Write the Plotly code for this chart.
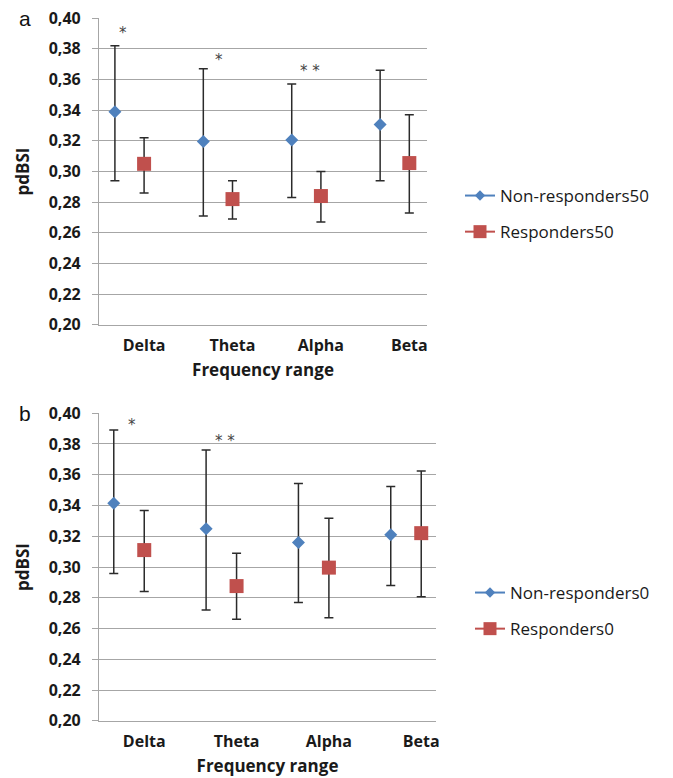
import plotly.graph_objects as go

categories = ["Delta", "Theta", "Alpha", "Beta"]
y_ticks = [0.20, 0.22, 0.24, 0.26, 0.28, 0.30, 0.32, 0.34, 0.36, 0.38, 0.40]

# Panel a
nonresp50_mean = [0.339, 0.3195, 0.3205, 0.3306]
nonresp50_upper = [0.382, 0.367, 0.357, 0.366]
nonresp50_lower = [0.294, 0.271, 0.283, 0.294]
resp50_mean = [0.305, 0.282, 0.284, 0.3055]
resp50_upper = [0.322, 0.294, 0.300, 0.337]
resp50_lower = [0.286, 0.269, 0.267, 0.273]
stars_a_text = ["*", "*", "* *"]
stars_a_cat = [-0.24, 0.85, 1.88]
stars_a_y = [0.390, 0.3727, 0.3655]

# Panel b
nonresp0_mean = [0.3415, 0.3248, 0.316, 0.3209]
nonresp0_upper = [0.389, 0.376, 0.3543, 0.3524]
nonresp0_lower = [0.2957, 0.272, 0.277, 0.288]
resp0_mean = [0.311, 0.2876, 0.2996, 0.322]
resp0_upper = [0.3367, 0.309, 0.3317, 0.3624]
resp0_lower = [0.284, 0.266, 0.267, 0.2807]
stars_b_text = ["*", "* *"]
stars_b_cat = [-0.13, 0.88]
stars_b_y = [0.392, 0.382]

BLUE = "#4F81BD"
RED = "#C0504D"
ERR = "#2b2b2b"
GRID = "#a6a6a6"
W, H = 673, 778
OFF = -0.33
PAD = 8  # page body margin offset


def px(x):
    return (x - PAD) / W


def py(y):
    return 1 - (y - PAD) / H


fig = go.Figure()


def add_panel(xa, ya, legend, mean_b, up_b, lo_b, mean_r, up_r, lo_r, name_b, name_r):
    xb = [i + OFF for i in range(len(categories))]
    xr = list(range(len(categories)))
    for xs, m, u, l, col, sym, size in [
        (xb, mean_b, up_b, lo_b, BLUE, "diamond", 10),
        (xr, mean_r, up_r, lo_r, RED, "square", 14),
    ]:
        fig.add_trace(go.Scatter(
            x=xs, y=m, mode="markers", xaxis=xa, yaxis=ya, showlegend=False,
            marker=dict(symbol=sym, size=size, color=col, line=dict(width=0)),
            error_y=dict(type="data", symmetric=False,
                         array=[a - b for a, b in zip(u, m)],
                         arrayminus=[b - c for b, c in zip(m, l)],
                         color=ERR, thickness=1.5, width=4.5),
        ))
    for nm, col, sym, size in [(name_b, BLUE, "diamond", 8), (name_r, RED, "square", 13)]:
        fig.add_trace(go.Scatter(
            x=[None], y=[None], mode="lines+markers", name=nm, xaxis=xa, yaxis=ya,
            legend=legend, legendgroup=nm,
            line=dict(color=col, width=2),
            marker=dict(symbol=sym, size=size, color=col),
        ))


add_panel("x", "y", "legend", nonresp50_mean, nonresp50_upper, nonresp50_lower,
          resp50_mean, resp50_upper, resp50_lower, "Non-responders50", "Responders50")
add_panel("x2", "y2", "legend2", nonresp0_mean, nonresp0_upper, nonresp0_lower,
          resp0_mean, resp0_upper, resp0_lower, "Non-responders0", "Responders0")

tickfont = dict(family="Open Sans", size=16, color="#1a1a1a", weight="bold")
titlefont = dict(family="Open Sans", size=17, color="#1a1a1a", weight="bold")


def yaxis(dom, anchor):
    return dict(domain=dom, range=[0.1999, 0.4001], tickvals=y_ticks, anchor=anchor,
                tickformat=".2f", showgrid=True, gridcolor=GRID, gridwidth=1.2,
                zeroline=False, showline=True, linecolor=GRID, linewidth=1.2,
                ticks="outside", ticklen=6, tickcolor=GRID, tickfont=tickfont,
                ticklabelstandoff=8, automargin=False, ticklabeloverflow="allow",
                title=dict(text="pdBSI", font=titlefont, standoff=14), fixedrange=True)


def xaxis(dom, rng, anchor):
    return dict(domain=dom, range=rng, tickvals=list(range(len(categories))),
                ticktext=categories, showgrid=False, zeroline=False,
                showline=True, linecolor=GRID, linewidth=1.2, ticks="",
                tickfont=tickfont, ticklabelstandoff=6, anchor=anchor,
                automargin=False, ticklabeloverflow="allow",
                title=dict(text="Frequency range", font=titlefont, standoff=8),
                fixedrange=True)


starfont = dict(family="DejaVu Sans", size=15, color="#444444")
ann = []
for t, cx, cy in zip(stars_a_text, stars_a_cat, stars_a_y):
    ann.append(dict(x=cx, y=cy, xref="x", yref="y", text=t, showarrow=False, font=starfont))
for t, cx, cy in zip(stars_b_text, stars_b_cat, stars_b_y):
    ann.append(dict(x=cx, y=cy, xref="x2", yref="y2", text=t, showarrow=False, font=starfont))
ann.append(dict(x=px(17), y=py(18), xref="paper", yref="paper", text="a",
                showarrow=False, xanchor="left", yanchor="middle",
                font=dict(family="Liberation Sans", size=21, color="#111111")))
ann.append(dict(x=px(17), y=py(413), xref="paper", yref="paper", text="b",
                showarrow=False, xanchor="left", yanchor="middle",
                font=dict(family="Liberation Sans", size=21, color="#111111")))

legfont = dict(family="Open Sans", size=17, color="#1a1a1a")

fig.update_layout(
    width=W, height=H, margin=dict(l=0, r=0, t=0, b=0, autoexpand=False),
    paper_bgcolor="white", plot_bgcolor="white",
    separators=", ",
    xaxis=xaxis([px(99), px(427)], [-0.51, 3.2], "y"),
    yaxis=yaxis([py(325), py(18)], "x"),
    xaxis2=xaxis([px(99), px(436)], [-0.49, 3.16], "y2"),
    yaxis2=yaxis([py(721), py(413)], "x2"),
    legend=dict(x=px(460), y=py(214), xanchor="left", yanchor="middle",
                font=legfont, tracegroupgap=11, bgcolor="rgba(0,0,0,0)"),
    legend2=dict(x=px(470), y=py(611), xanchor="left", yanchor="middle",
                 font=legfont, tracegroupgap=11, bgcolor="rgba(0,0,0,0)"),
    annotations=ann,
)

fig.write_html("out.html")
